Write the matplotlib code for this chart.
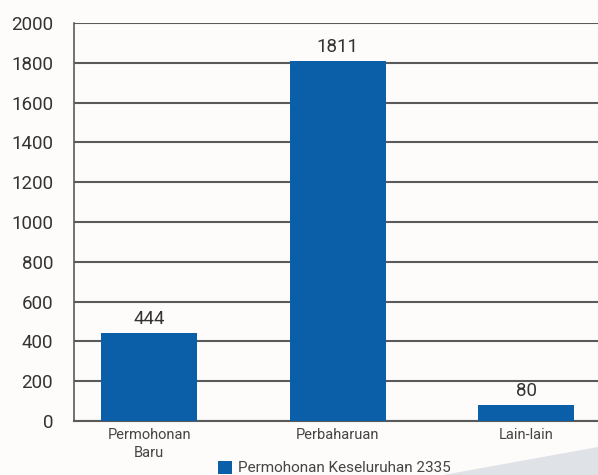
import matplotlib.pyplot as plt
from matplotlib.patches import Polygon, Rectangle

categories = ["Permohonan\nBaru", "Perbaharuan", "Lain-lain"]
values = [444, 1811, 80]
total_label = "Permohonan Keseluruhan 2335"
y_ticks = list(range(0, 2001, 200))

bar_color = "#0b5ea8"
grid_color = "#5a5a5a"

plt.rcParams["font.family"] = ["Roboto", "DejaVu Sans"]

fig = plt.figure(figsize=(5.98, 4.75), dpi=100, facecolor="#fdfcfa")

# light grey decoration bottom right
fig.patches.append(Polygon([[0.74, 0.0], [1.0, 0.0], [1.0, 0.06]],
                           closed=True, transform=fig.transFigure,
                           facecolor="#dfe2e6", edgecolor="none", zorder=0))

ax = fig.add_axes([0.1237, 0.1137, 0.8763, 0.8379])
ax.set_facecolor("#fdfcfa")

x = list(range(len(categories)))
bars = ax.bar(x, values, width=0.51, color=bar_color, zorder=3)

ax.set_ylim(0, 2000)
ax.set_xlim(-0.4, 2.38)
ax.set_yticks(y_ticks)
ax.yaxis.grid(True, color=grid_color, linewidth=1.5, zorder=1)
ax.tick_params(axis="y", length=0, pad=15, labelsize=13.5, labelcolor="#333333")
ax.tick_params(axis="x", length=0, pad=5, labelsize=10.5, labelcolor="#444444")
ax.set_xticks(x)
ax.set_xticklabels(categories, linespacing=1.4)

for side in ["top", "right"]:
    ax.spines[side].set_visible(False)
ax.spines["left"].set_color(grid_color)
ax.spines["left"].set_linewidth(1.2)
ax.spines["bottom"].set_color(grid_color)
ax.spines["bottom"].set_linewidth(1.5)

for b, v in zip(bars, values):
    ax.text(b.get_x() + b.get_width() / 2, v + 25, str(v), ha="center", va="bottom",
            fontsize=13.5, color="#333333", zorder=4)

# legend marker and text
fig.patches.append(Rectangle((218 / 598, 1 / 475), 14 / 598, 13 / 475,
                             transform=fig.transFigure, facecolor=bar_color,
                             edgecolor="none", zorder=3))
fig.text(238 / 598, 1 - 468 / 475, total_label, ha="left", va="center",
         fontsize=11, color="#444444")

fig.savefig("out.png", dpi=100, facecolor=fig.get_facecolor())
